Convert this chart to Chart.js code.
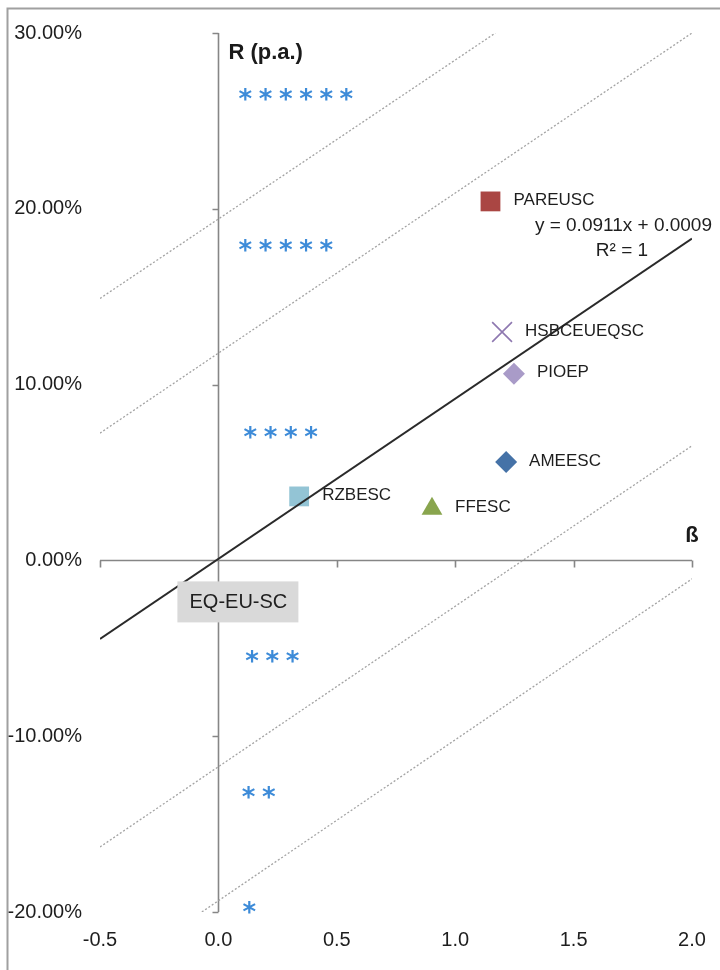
<!DOCTYPE html>
<html>
<head>
<meta charset="utf-8">
<script src="https://cdn.jsdelivr.net/npm/chart.js@4.4.1/dist/chart.umd.min.js"></script>
<style>
  html, body { margin: 0; padding: 0; background: #fff; }
  canvas { display: block; }
</style>
</head>
<body>
<canvas id="betaChart" width="720" height="970"></canvas>
<script>
// Funds: beta vs. annual return
var fundNames = ["PAREUSC", "HSBCEUEQSC", "PIOEP", "AMEESC", "FFESC", "RZBESC"];
var fundBeta = [1.149, 1.198, 1.248, 1.215, 0.902, 0.341];
var fundReturn = [0.2042, 0.1299, 0.1062, 0.0560, 0.0294, 0.0364];
var fundColors = ["#AA4643", "#8E78B0", "#A99BC8", "#4572A7", "#89A54E", "#93C4D5"];
var fundShapes = ["rect", "crossRot", "rectRot", "rectRot", "triangle", "rect"];

// Security market line (trendline) and the dotted rating bands
var trendBeta = [-0.5, 2.0];
var trendReturn = [-0.0447, 0.1831];
var bandBeta = [[-0.5, 1.17], [-0.5, 2.0], [-0.5, 2.0], [-0.07, 2.0]];
var bandReturn = [[0.149, 0.30], [0.0724, 0.30], [-0.163, 0.0652], [-0.20, -0.0105]];

// Star ratings
var starLabels = ["******", "*****", "****", "***", "**", "*"];
var starBeta = [0.114, 0.114, 0.135, 0.142, 0.127, 0.131];
var starReturn = [0.2649, 0.179, 0.073, -0.0544, -0.1321, -0.1972];

// Index
var indexName = "EQ-EU-SC";
var indexBeta = [0];
var indexReturn = [0];

var yTicks = { min: -0.2, max: 0.3, step: 0.1 };
var xTicks = { min: -0.5, max: 2.0, step: 0.5 };

var LABEL_FONT = '17px "Liberation Sans"';
var TEXT_COLOR = "#1e1e1e";

function pts(xs, ys) {
    return xs.map(function (x, i) { return { x: x, y: ys[i] }; });
}

var datasets = [];

bandBeta.forEach(function (b, i) {
    datasets.push({
        label: "band" + i,
        data: pts(b, bandReturn[i]),
        showLine: true,
        borderColor: "#a3a3a3",
        borderWidth: 1.3,
        borderDash: [2, 2],
        pointRadius: 0
    });
});

datasets.push({
    label: "trend",
    data: pts(trendBeta, trendReturn),
    showLine: true,
    borderColor: "#2a2a2a",
    borderWidth: 2,
    pointRadius: 0
});

fundNames.forEach(function (name, i) {
    var cross = fundShapes[i] === "crossRot";
    datasets.push({
        label: name,
        data: [{ x: fundBeta[i], y: fundReturn[i] }],
        pointStyle: fundShapes[i],
        pointRadius: cross ? 14 : (fundShapes[i] === "rect" ? 14 : (fundShapes[i] === "triangle" ? 12 : 11)),
        pointBackgroundColor: fundColors[i],
        pointBorderColor: fundColors[i],
        pointBorderWidth: cross ? 1.6 : 0
    });
});

datasets.push({
    label: "stars",
    data: pts(starBeta, starReturn),
    pointRadius: 0
});

datasets.push({
    label: indexName,
    data: pts(indexBeta, indexReturn),
    pointRadius: 0
});

var overlay = {
    id: "overlay",
    beforeDraw: function (chart) {
        var ctx = chart.ctx;
        ctx.save();
        ctx.fillStyle = "#fff";
        ctx.fillRect(0, 0, chart.width, chart.height);
        ctx.restore();
    },
    beforeDatasetsDraw: function (chart) {
        var ctx = chart.ctx;
        var xs = chart.scales.x, ys = chart.scales.y;
        var x0 = Math.round(xs.getPixelForValue(0)) + 0.5;
        var y0 = Math.round(ys.getPixelForValue(0)) + 0.5;
        ctx.save();
        ctx.strokeStyle = "#868686";
        ctx.lineWidth = 1.6;
        ctx.beginPath();
        ctx.moveTo(x0, ys.top);
        ctx.lineTo(x0, ys.bottom);
        ys.ticks.forEach(function (t) {
            var p = Math.round(ys.getPixelForValue(t.value)) + 0.5;
            ctx.moveTo(x0, p);
            ctx.lineTo(x0 - 6, p);
        });
        ctx.moveTo(xs.left, y0);
        ctx.lineTo(xs.right, y0);
        xs.ticks.forEach(function (t) {
            var p = Math.round(xs.getPixelForValue(t.value)) + 0.5;
            ctx.moveTo(p, y0);
            ctx.lineTo(p, y0 + 7);
        });
        ctx.stroke();
        ctx.restore();
    },
    afterDatasetsDraw: function (chart) {
        var ctx = chart.ctx;
        var xs = chart.scales.x, ys = chart.scales.y;
        ctx.save();

        // fund labels
        ctx.font = LABEL_FONT;
        ctx.fillStyle = TEXT_COLOR;
        ctx.textAlign = "left";
        ctx.textBaseline = "middle";
        fundNames.forEach(function (name, i) {
            var px = xs.getPixelForValue(fundBeta[i]);
            var py = ys.getPixelForValue(fundReturn[i]);
            ctx.fillText(name, px + 23, py - 1);
        });

        // star ratings
        ctx.font = 'bold 26px "DejaVu Sans"';
        ctx.fillStyle = "#3d8bd8";
        ctx.textAlign = "center";
        ctx.textBaseline = "alphabetic";
        var m = ctx.measureText("*");
        var off = (m.actualBoundingBoxAscent - m.actualBoundingBoxDescent) / 2;
        starLabels.forEach(function (s, i) {
            var px = xs.getPixelForValue(starBeta[i]);
            var py = ys.getPixelForValue(starReturn[i]);
            for (var k = 0; k < s.length; k++) {
                ctx.fillText(s.charAt(k), px + k * 20.2, py + off);
            }
        });

        // trendline equation
        ctx.font = '19px "Liberation Sans"';
        ctx.fillStyle = TEXT_COLOR;
        ctx.textBaseline = "middle";
        ctx.textAlign = "right";
        ctx.fillText("y = 0.0911x + 0.0009", chart.chartArea.right + 20, 226);
        ctx.textAlign = "center";
        ctx.fillText("R\u00B2 = 1", chart.chartArea.right - 70, 251);

        // axis titles
        ctx.font = 'bold 22px "Liberation Sans"';
        ctx.fillStyle = "#1a1a1a";
        ctx.textAlign = "left";
        ctx.fillText("R (p.a.)", xs.getPixelForValue(0) + 10, 53);
        ctx.textAlign = "center";
        ctx.fillText("\u00DF", chart.chartArea.right, ys.getPixelForValue(0) - 24);

        // index label box
        var ix = xs.getPixelForValue(indexBeta[0]) + 20;
        var iy = ys.getPixelForValue(indexReturn[0]) + 41;
        ctx.fillStyle = "#d9d9d9";
        ctx.fillRect(ix - 61, iy - 20, 121, 41);
        ctx.font = '20px "Liberation Sans"';
        ctx.fillStyle = TEXT_COLOR;
        ctx.fillText(indexName, ix, iy + 1);

        ctx.restore();
    },
    afterDraw: function (chart) {
        var ctx = chart.ctx;
        ctx.save();
        ctx.strokeStyle = "#a0a0a0";
        ctx.lineWidth = 2;
        ctx.strokeRect(7.5, 8.5, chart.width + 20, chart.height + 20);
        ctx.restore();
    }
};

new Chart(document.getElementById("betaChart"), {
    type: "scatter",
    data: { datasets: datasets },
    options: {
        responsive: false,
        animation: false,
        devicePixelRatio: 1,
        layout: { padding: { left: 0, top: 33, right: 28, bottom: 0 } },
        plugins: {
            legend: { display: false },
            tooltip: { enabled: false }
        },
        scales: {
            x: {
                type: "linear",
                min: xTicks.min,
                max: xTicks.max,
                grid: { display: false },
                border: { display: false },
                ticks: {
                    stepSize: xTicks.step,
                    padding: 8,
                    color: "#1e1e1e",
                    font: { family: "Liberation Sans", size: 20 },
                    callback: function (v) { return Number(v).toFixed(1); }
                },
                afterFit: function (s) { s.height = 58; }
            },
            y: {
                type: "linear",
                min: yTicks.min,
                max: yTicks.max,
                grid: { display: false },
                border: { display: false },
                ticks: {
                    stepSize: yTicks.step,
                    padding: 10,
                    color: "#1e1e1e",
                    font: { family: "Liberation Sans", size: 20 },
                    callback: function (v) {
                        var n = Math.abs(v) < 1e-9 ? 0 : v;
                        return (n * 100).toFixed(2) + "%";
                    }
                },
                afterFit: function (s) { s.width = 100; }
            }
        }
    },
    plugins: [overlay]
});
</script>
</body>
</html>
